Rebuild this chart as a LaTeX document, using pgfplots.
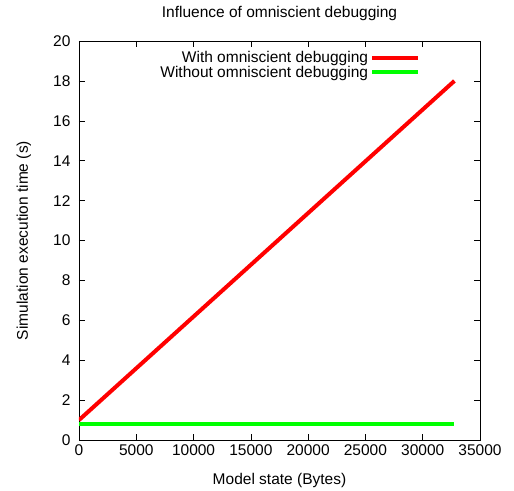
\documentclass[border=0pt]{standalone}
\usepackage{fontspec}
\setmainfont{Liberation Sans}
\usepackage{pgfplots}
\pgfplotsset{compat=1.18}
\definecolor{gpred}{RGB}{255,0,0}
\definecolor{gpgreen}{RGB}{0,255,0}
\begin{document}
\begin{tikzpicture}[font=\fontsize{15.5}{18}\selectfont]
\begin{axis}[
  name=ax,
  scale only axis,
  width=401pt, height=399pt,
  xmin=0, xmax=35000, ymin=0, ymax=20,
  xtick={0,5000,...,35000}, ytick={0,2,...,20},
  tick align=inside, major tick length=6pt,
  scaled x ticks=false,
  /pgf/number format/assume math mode=true,
  /pgf/number format/1000 sep={},
  tick label style={font=\fontsize{15.5}{18}\selectfont},
  xticklabel style={yshift=-1pt},
  yticklabel style={xshift=-5pt},
  axis line style={line width=0.8pt},
  every tick/.style={black, line width=0.6pt},
  title={Influence of omniscient debugging},
  title style={at={(0.5,1)}, anchor=base, yshift=17pt},
  xlabel={Model state (Bytes)},
  xlabel style={at={(0.5,0)}, anchor=base, yshift=-44pt},
  ylabel={Simulation execution time (s)},
  ylabel style={at={(rel axis cs:0,0.5)}, anchor=base, yshift=51pt},
  legend plot pos=right,
  legend cell align=right,
  legend style={draw=none, fill=none, at={(0.851,0.98)}, anchor=north east,
    inner sep=0pt, row sep=-2pt, font=\fontsize{15.5}{18}\selectfont},
  legend image code/.code={\draw[#1] (6pt,0pt) -- (52pt,0pt);},
]
\addplot[gpred, line width=4pt] coordinates {(0,1.0) (32768,18.0)};
\addlegendentry{With omniscient debugging}
\addplot[gpgreen, line width=4pt] coordinates {(0,0.82) (32768,0.82)};
\addlegendentry{Without omniscient debugging}
\end{axis}
\path ([shift={(-79pt,-49pt)}]ax.south west) rectangle ([shift={(34pt,41pt)}]ax.north east);
\end{tikzpicture}
\end{document}
